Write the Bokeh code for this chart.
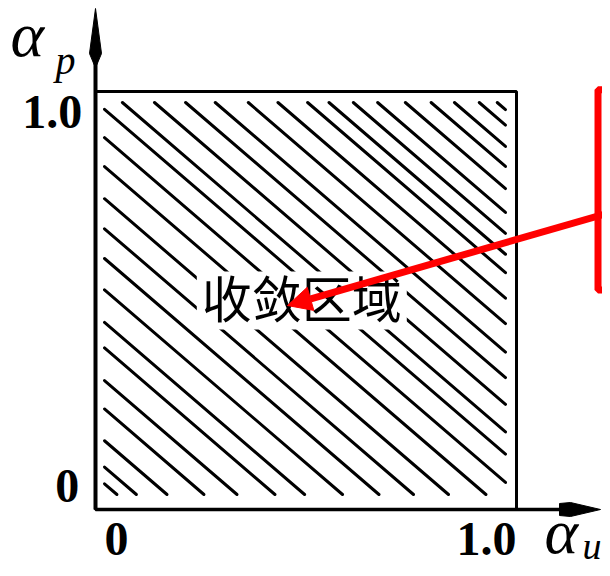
from bokeh.plotting import figure
from bokeh.models import Range1d, Arrow, NormalHead
from bokeh.core.properties import value
from bokeh.embed import file_html
from bokeh.resources import INLINE

# ---------------- data ----------------
x_ticks = [0.0, 1.0]
x_tick_labels = ["0", "1.0"]
y_ticks = [0.0, 1.0]
y_tick_labels = ["0", "1.0"]
x_axis_symbol = ["α", "u"]
y_axis_symbol = ["α", "p"]
region_label = ["收敛区域"]
region_x = [0.49]
region_y = [0.50]
hatch_slope = 0.866
hatch_intercepts = [1.800, 1.763, 1.712, 1.664, 1.611, 1.554, 1.504, 1.454,
                    1.410, 1.349, 1.288, 1.220, 1.159, 1.095, 1.029, 0.976,
                    0.908, 0.839, 0.762, 0.690, 0.619, 0.544, 0.466, 0.405,
                    0.327, 0.259, 0.183, 0.120, 0.080]

# ---------------- layout ----------------
W, H = 602, 568
PX, PY = 421.0, 418.0          # pixels per data unit
ox, oy = 95.0, 509.0           # canvas pixel of data origin (from left / top)
x_range = Range1d(-ox / PX, (W - ox) / PX)
y_range = Range1d(-(H - oy) / PY, oy / PY)
BL = 0.33                      # baseline correction, fraction of font size

def dx(px):
    return px / PX

def dy(px):
    return px / PY

p = figure(width=W, height=H, x_range=x_range, y_range=y_range,
           output_backend="svg", toolbar_location=None,
           x_axis_location=None, y_axis_location=None, min_border=0)
p.grid.visible = False
p.outline_line_color = None
p.background_fill_color = "white"
p.border_fill_color = "white"

# hatch lines, clipped to an inset of the unit box
xl, xr = dx(9), 1 - dx(11)
yb, yt = dy(15), 1 - dy(11)
hx0, hy0, hx1, hy1 = [], [], [], []
for c in hatch_intercepts:
    a = max(xl, (c - yt) / hatch_slope)
    b = min(xr, (c - yb) / hatch_slope)
    if b > a:
        hx0.append(a); hy0.append(c - hatch_slope * a)
        hx1.append(b); hy1.append(c - hatch_slope * b)
p.segment(x0=hx0, y0=hy0, x1=hx1, y1=hy1, line_color="black",
          line_width=3, line_cap="round")

# white patch behind label, then label
p.rect(x=region_x, y=region_y, width=210, height=58, width_units="screen",
       height_units="screen", fill_color="white", line_color=None)
p.text(x=region_x, y=[v + dy(5) for v in region_y], text=region_label,
       text_font=value("Noto Sans CJK SC"), text_font_size="50px",
       text_align="center", text_baseline="middle", text_color="black")

# box (top/right borders)
p.quad(left=[x_ticks[0]], right=[x_ticks[1]], bottom=[y_ticks[0]], top=[y_ticks[1]],
       fill_color=None, line_color="black", line_width=3)

# axes with arrows
y_tip = dy(501)
x_tip = dx(505)
p.segment(x0=[0], y0=[0], x1=[0], y1=[y_tip - dy(50)], line_color="black", line_width=4)
p.segment(x0=[0], y0=[0], x1=[x_tip - dx(35)], y1=[0], line_color="black", line_width=3.5)
p.patch(x=[0, dx(6), dx(1), dx(-1), dx(-6)],
        y=[y_tip, y_tip - dy(45), y_tip - dy(57), y_tip - dy(57), y_tip - dy(45)],
        fill_color="black", line_color="black", line_width=1)
p.patch(x=[x_tip, x_tip - dx(30), x_tip - dx(41), x_tip - dx(41), x_tip - dx(30)],
        y=[0, dy(7), dy(6), dy(-6), dy(-7)],
        fill_color="black", line_color="black", line_width=1)

# tick labels
serif = value("Liberation Serif")
TS = 48
ytl_dx = [-28.3, -43.3]
ytl_dy = [8, -36]
p.text(x=[dx(v) for v in ytl_dx],
       y=[t + dy(o + BL * TS) for t, o in zip(y_ticks, ytl_dy)],
       text=y_tick_labels, text_font=serif, text_font_style="bold",
       text_font_size=f"{TS}px", text_align="center", text_baseline="alphabetic")
xtl_dx = [21, -30]
p.text(x=[t + dx(o) for t, o in zip(x_ticks, xtl_dx)], y=[dy(-45 + BL * TS)] * 2,
       text=x_tick_labels, text_font=serif, text_font_style="bold",
       text_font_size=f"{TS}px", text_align="center", text_baseline="alphabetic")

# axis symbols
AS, SS, US = 64, 40, 38
p.text(x=[dx(-85)], y=[1 + dy(36 + BL * AS)], text=[y_axis_symbol[0]], text_font=serif,
       text_font_style="italic", text_font_size=f"{AS}px", text_align="left",
       text_baseline="alphabetic")
p.text(x=[dx(-40)], y=[1 + dy(18 + BL * SS)], text=[y_axis_symbol[1]], text_font=serif,
       text_font_style="italic", text_font_size=f"{SS}px", text_align="left",
       text_baseline="alphabetic")
p.text(x=[1 + dx(28)], y=[dy(-43 + BL * AS)], text=[x_axis_symbol[0]], text_font=serif,
       text_font_style="italic", text_font_size=f"{AS}px", text_align="left",
       text_baseline="alphabetic")
p.text(x=[1 + dx(66)], y=[dy(-49 + BL * US)], text=[x_axis_symbol[1]], text_font=serif,
       text_font_style="italic", text_font_size=f"{US}px", text_align="left",
       text_baseline="alphabetic")

# red callout box (cut by the right edge) and arrow
p.quad(left=[1.1936], right=[1.5], bottom=[0.525], top=[1.004],
       fill_color=None, line_color="red", line_width=7)
p.add_layout(Arrow(x_start=1.30, y_start=0.733, x_end=0.456, y_end=0.488,
                   line_color="red", line_width=7,
                   end=NormalHead(size=24, fill_color="red", line_color="red", line_width=1)))

open("out.html", "w").write(file_html(p, INLINE))
